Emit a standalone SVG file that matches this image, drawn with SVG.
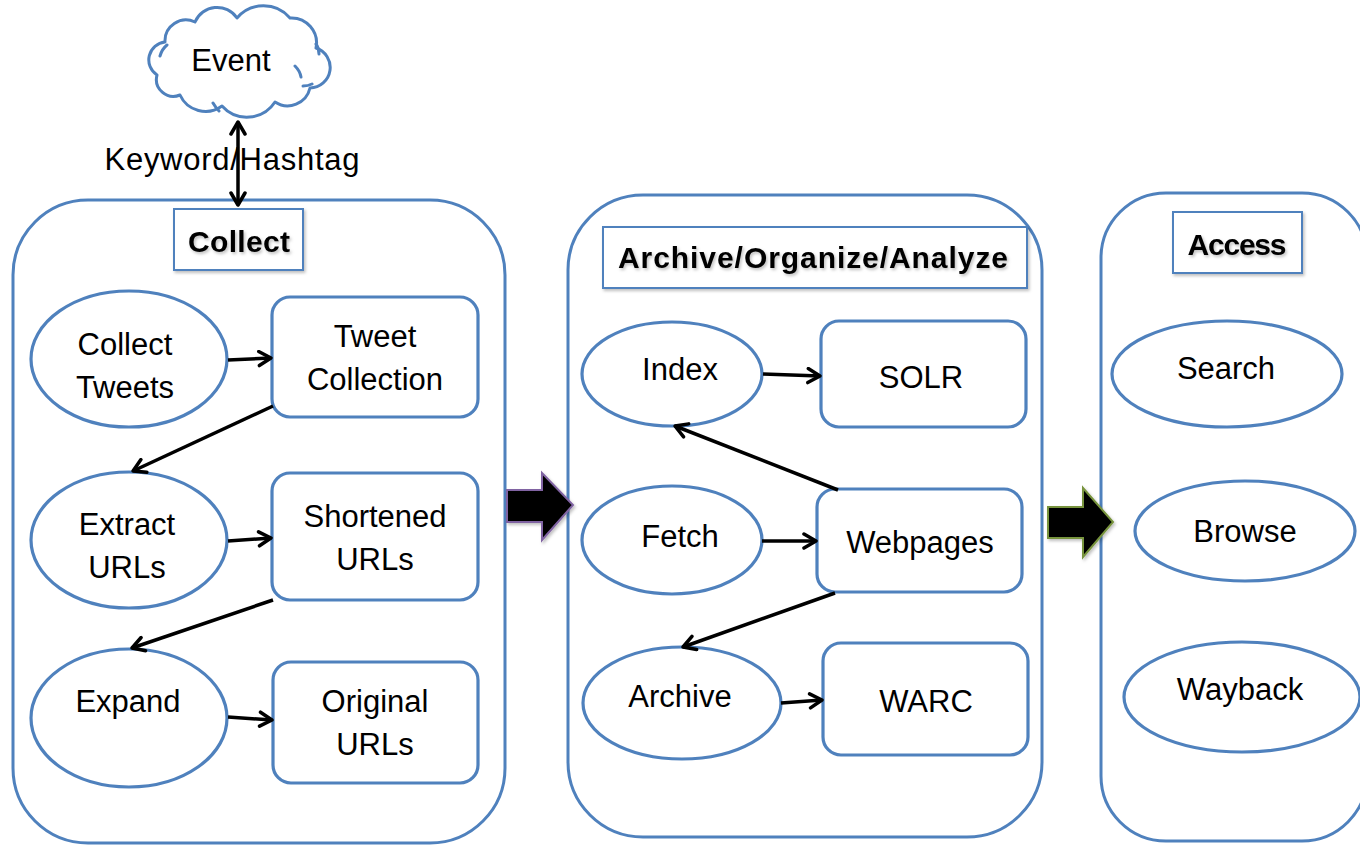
<svg xmlns="http://www.w3.org/2000/svg" width="1360" height="845" viewBox="0 0 1360 845">
  <defs>
    <style>
      .frame { fill: #ffffff; stroke: #4f81bd; stroke-width: 3; }
      .node { fill: #ffffff; stroke: #4f81bd; stroke-width: 3.2; }
      .title-box { fill: #ffffff; stroke: #4f81bd; stroke-width: 2; filter: url(#soft); }
      .title { font-family: "Liberation Sans", Arial, sans-serif; font-size: 30px; font-weight: bold; fill: #000; text-anchor: middle; filter: url(#soft); }
      .label { font-family: "Liberation Sans", Arial, sans-serif; font-size: 31px; fill: #000; text-anchor: middle; }
      .edge { fill: none; stroke: #000; stroke-width: 3.5; marker-end: url(#head); }
      .cloud { fill: #ffffff; stroke: #4f81bd; stroke-width: 3; stroke-linejoin: round; }
      .cloud-detail { fill: none; stroke: #4f81bd; stroke-width: 3; stroke-linecap: round; }
    </style>
    <filter id="soft" x="-10%" y="-20%" width="120%" height="150%">
      <feDropShadow dx="1.5" dy="2" stdDeviation="1.5" flood-color="#000" flood-opacity="0.25"/>
    </filter>
    <marker id="head" markerUnits="userSpaceOnUse" markerWidth="18" markerHeight="18" refX="15" refY="9" orient="auto-start-reverse">
      <path d="M3,2 L15,9 L3,16" fill="none" stroke="#000" stroke-width="3.5" stroke-linecap="round" stroke-linejoin="round"/>
    </marker>
  </defs>

  <!-- stage frames -->
  <g id="stage-collect">
    <rect class="frame" x="13" y="200" width="492" height="643" rx="75" ry="75"/>
    <rect class="title-box" x="174" y="209" width="129" height="61"/>
    <text class="title" x="239" y="252" textLength="102">Collect</text>
  </g>
  <g id="stage-archive">
    <rect class="frame" x="568" y="195" width="474" height="642" rx="75" ry="75"/>
    <rect class="title-box" x="603" y="227" width="424" height="61"/>
    <text class="title" x="813" y="268" textLength="390">Archive/Organize/Analyze</text>
  </g>
  <g id="stage-access">
    <rect class="frame" x="1101" y="193" width="266" height="648" rx="65" ry="65"/>
    <rect class="title-box" x="1173" y="212" width="129" height="61"/>
    <text class="title" x="1237" y="255" textLength="99">Access</text>
  </g>

  <!-- event cloud -->
  <g id="event">
    <path class="cloud" d="M157,75 A18,18 0 0 1 165,42 A21,21 0 0 1 195,22 A24,24 0 0 1 237,18 A35,35 0 0 1 290,18 A25,25 0 0 1 316,48 A20.5,20.5 0 0 1 310,88 A23,23 0 0 1 275,102 A33.5,33.5 0 0 1 222,106 A28,28 0 0 1 180,95 A17,17 0 0 1 157,75 Z"/>
    <path class="cloud-detail" d="M160,56 Q162,49 167,45 M295,66 Q300,71 301,77 M213,103 Q216,108 219,111 M316,44 Q319,48 319,54 M303,86 Q308,86 312,84"/>
    <text class="label" x="231" y="71">Event</text>
  </g>

  <!-- collect nodes -->
  <g id="collect-tweets">
    <ellipse class="node" cx="129" cy="359" rx="98" ry="68"/>
    <text class="label" x="125" y="355">Collect</text>
    <text class="label" x="125" y="398">Tweets</text>
  </g>
  <g id="tweet-collection">
    <rect class="node" x="272" y="297" width="206" height="120" rx="18" ry="18"/>
    <text class="label" x="375" y="347">Tweet</text>
    <text class="label" x="375" y="390">Collection</text>
  </g>
  <g id="extract-urls">
    <ellipse class="node" cx="129" cy="540" rx="98" ry="68"/>
    <text class="label" x="127" y="535">Extract</text>
    <text class="label" x="127" y="578">URLs</text>
  </g>
  <g id="shortened-urls">
    <rect class="node" x="272" y="473" width="206" height="127" rx="18" ry="18"/>
    <text class="label" x="375" y="527">Shortened</text>
    <text class="label" x="375" y="570">URLs</text>
  </g>
  <g id="expand">
    <ellipse class="node" cx="129" cy="718" rx="98" ry="69"/>
    <text class="label" x="128" y="712">Expand</text>
  </g>
  <g id="original-urls">
    <rect class="node" x="273" y="662" width="205" height="121" rx="18" ry="18"/>
    <text class="label" x="375" y="712">Original</text>
    <text class="label" x="375" y="755">URLs</text>
  </g>

  <!-- archive nodes -->
  <g id="index">
    <ellipse class="node" cx="672" cy="374" rx="90" ry="52"/>
    <text class="label" x="680" y="380">Index</text>
  </g>
  <g id="solr">
    <rect class="node" x="821" y="321" width="205" height="106" rx="18" ry="18"/>
    <text class="label" x="921" y="388">SOLR</text>
  </g>
  <g id="fetch">
    <ellipse class="node" cx="672" cy="540" rx="90" ry="54"/>
    <text class="label" x="680" y="547">Fetch</text>
  </g>
  <g id="webpages">
    <rect class="node" x="817" y="489" width="205" height="103" rx="18" ry="18"/>
    <text class="label" x="920" y="553">Webpages</text>
  </g>
  <g id="archive">
    <ellipse class="node" cx="682" cy="703" rx="99" ry="56"/>
    <text class="label" x="680" y="707">Archive</text>
  </g>
  <g id="warc">
    <rect class="node" x="823" y="643" width="205" height="112" rx="18" ry="18"/>
    <text class="label" x="926" y="712">WARC</text>
  </g>

  <!-- access nodes -->
  <g id="search">
    <ellipse class="node" cx="1227" cy="374" rx="115" ry="53"/>
    <text class="label" x="1226" y="379">Search</text>
  </g>
  <g id="browse">
    <ellipse class="node" cx="1245" cy="531" rx="110" ry="50"/>
    <text class="label" x="1245" y="542">Browse</text>
  </g>
  <g id="wayback">
    <ellipse class="node" cx="1242" cy="697" rx="118" ry="55"/>
    <text class="label" x="1240" y="700">Wayback</text>
  </g>

  <!-- stage transitions -->
  <g id="transitions">
    <path d="M507,490 L542,490 L542,473 L573,505 L542,540 L542,522 L507,522 Z" fill="#000" stroke="#8064a2" stroke-width="2" stroke-linejoin="miter" filter="url(#soft)"/>
    <path d="M1048,507 L1083,507 L1083,488 L1113,522 L1083,557 L1083,538 L1048,538 Z" fill="#000" stroke="#77933c" stroke-width="2" stroke-linejoin="miter" filter="url(#soft)"/>
  </g>

  <!-- connectors -->
  <g id="connectors">
    <text class="label" x="232" y="170" textLength="255">Keyword/Hashtag</text>
    <line class="edge" x1="238" y1="122" x2="238" y2="205" style="marker-start: url(#head)"/>
    <line class="edge" x1="228" y1="360" x2="271" y2="358"/>
    <line class="edge" x1="273" y1="406" x2="133" y2="471"/>
    <line class="edge" x1="228" y1="541" x2="271" y2="538"/>
    <line class="edge" x1="273" y1="600" x2="132" y2="648"/>
    <line class="edge" x1="228" y1="717" x2="272" y2="720"/>
    <line class="edge" x1="763" y1="374" x2="820" y2="376"/>
    <line class="edge" x1="838" y1="490" x2="675" y2="426"/>
    <line class="edge" x1="762" y1="541" x2="816" y2="541"/>
    <line class="edge" x1="835" y1="593" x2="683" y2="647"/>
    <line class="edge" x1="781" y1="703" x2="822" y2="700"/>
  </g>
</svg>
